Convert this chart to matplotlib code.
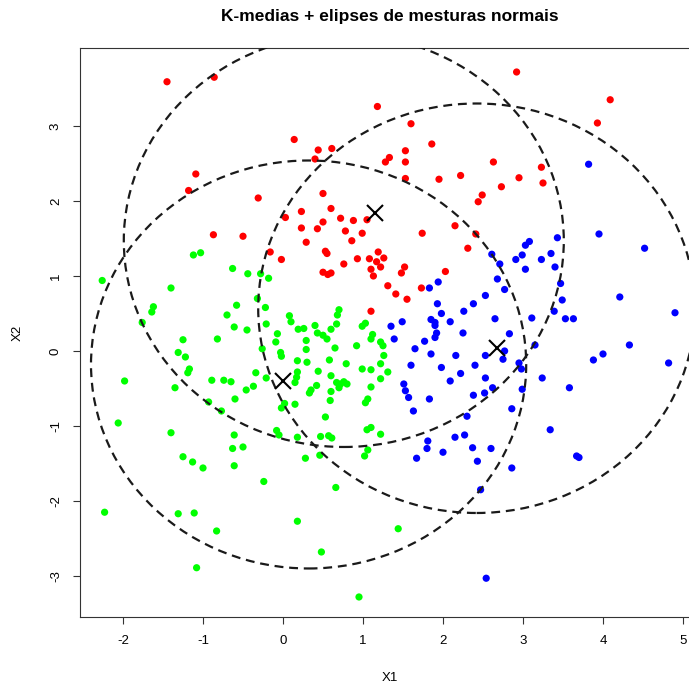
import matplotlib
matplotlib.use("Agg")
import matplotlib.pyplot as plt
from matplotlib.patches import Ellipse
import numpy as np

plt.rcParams['font.family'] = ['Liberation Sans', 'DejaVu Sans']
plt.rcParams['axes.unicode_minus'] = False

# points per cluster
red_x = [-1.45, -0.86, -1.09, -1.18, -0.31, 0.03, -0.87, -0.50,
         1.18, 1.60, 0.14, 0.44, 0.61, 0.40, 1.53, 1.33, 1.28, 1.53, 1.86, 1.53,
         1.95, 2.22, 2.49, 2.44, 0.50, 0.23, 0.60, 0.23, 0.43, 0.50, 0.72, 0.88,
         1.05, 0.78, 0.99, 1.74, 2.15, 2.41,
         2.92, 4.09, 3.93, 2.63, 3.23, 2.95, 3.25, 2.73,
         -0.16, -0.02,
         0.29, 0.86, 0.53, 0.55, 1.19, 1.26, 0.93, 1.08, 1.17, 0.76, 1.22, 1.10,
         1.52, 1.48, 0.50, 0.56, 0.60, 1.13, 2.03, 2.31, 1.31, 1.41, 1.55, 1.73, 1.10]
red_y = [3.59, 3.65, 2.36, 2.14, 2.04, 1.78, 1.55, 1.53,
         3.26, 3.03, 2.82, 2.68, 2.70, 2.56, 2.67, 2.58, 2.52, 2.52, 2.76, 2.30,
         2.29, 2.34, 2.08, 1.99, 2.10, 1.86, 1.90, 1.64, 1.63, 1.72, 1.77, 1.74,
         1.75, 1.60, 1.57, 1.57, 1.67, 1.56,
         3.72, 3.35, 3.04, 2.52, 2.45, 2.31, 2.24, 2.19,
         1.32, 1.22,
         1.45, 1.47, 1.33, 1.30, 1.32, 1.24, 1.23, 1.23, 1.19, 1.16, 1.12, 1.09,
         1.12, 1.04, 1.05, 1.02, 1.04, 1.00, 1.06, 1.37, 0.87, 0.76, 0.69, 0.84, 0.53]

green_x = [-1.12, -1.03, -2.26, -1.40, -0.63, -0.44, -0.28, -0.18, -0.32, -1.62,
           -1.64, -0.58, -0.22, -0.70, -1.76, -0.61, -0.45, -0.21, -0.82, -1.25,
           -0.07, -0.09, -1.31, -1.22, -0.26, -0.03, -0.02, -1.17, -1.19, -1.98,
           -1.35, -0.89, -0.74, -0.65, -0.34, -0.21, -0.37, -0.46, -0.60, -0.93,
           -0.77, -0.02, -2.06,
           0.08, 0.10, 0.19, 0.26, 0.40, 0.43, 0.50, 0.55, 0.60, 0.67, 0.68, 0.70,
           0.99, 1.03, 1.12, 1.10, 1.22, 1.25, 0.92, 0.65, 0.29, 0.29, 1.26, 0.18,
           0.30, 0.58, 0.79, 1.22, 0.44, 0.18, 0.17, 0.15, 0.99, 1.10, 1.31, 0.60,
           0.67, 0.72, 0.76, 0.80, 0.70, 0.42, 0.35, 0.33, 1.22, 0.60, 1.10, 1.06,
           1.03, 0.59, 0.15, 0.02, 0.53,
           -1.40, -0.61, -0.63, -0.50, -1.25, -1.13, -1.00, -0.61, -0.24, -0.08,
           -0.05, -2.23, -1.31, -1.11, -0.83, -1.08,
           0.18, 0.47, 0.57, 0.61, 1.05, 1.10, 1.22, 1.06, 1.02, 0.28, 0.46, 0.66,
           0.18, 1.44, 0.48, 0.95]
green_y = [1.28, 1.31, 0.94, 0.84, 1.10, 1.03, 1.03, 0.97, 0.70, 0.59,
           0.52, 0.61, 0.58, 0.48, 0.38, 0.32, 0.28, 0.36, 0.16, 0.15,
           0.23, 0.12, -0.02, -0.08, 0.03, -0.02, -0.07, -0.24, -0.29, -0.40,
           -0.49, -0.39, -0.39, -0.41, -0.29, -0.36, -0.47, -0.52, -0.64, -0.68,
           -0.80, -0.76, -0.96,
           0.47, 0.39, 0.29, 0.30, 0.34, 0.24, 0.21, 0.16, 0.29, 0.36, 0.48, 0.55,
           0.33, 0.37, 0.22, 0.16, 0.12, 0.07, 0.07, 0.04, 0.14, 0.02, -0.06, -0.13,
           -0.15, -0.12, -0.17, -0.17, -0.27, -0.28, -0.35, -0.42, -0.24, -0.25, -0.28, -0.33,
           -0.42, -0.44, -0.41, -0.44, -0.49, -0.46, -0.52, -0.56, -0.37, -0.54, -0.48, -0.64,
           -0.69, -0.66, -0.71, -0.70, -0.88,
           -1.09, -1.12, -1.30, -1.28, -1.41, -1.48, -1.56, -1.53, -1.74, -1.06,
           -1.12, -2.15, -2.17, -2.16, -2.40, -2.89,
           -1.15, -1.14, -1.13, -1.16, -1.05, -1.02, -1.11, -1.32, -1.40, -1.43, -1.39, -1.82,
           -2.27, -2.37, -2.68, -3.28]

blue_x = [3.82, 3.95, 3.43,
          1.83, 1.94, 1.93, 1.98, 1.85, 1.90, 1.90, 1.92, 1.90, 2.09, 2.26, 2.38,
          2.25, 2.53, 1.49, 1.35, 1.39, 1.77, 1.65, 1.85, 2.16, 1.60, 1.98, 2.22,
          2.40, 2.53, 2.09, 2.53, 1.51, 1.53, 1.57, 1.83, 1.63, 2.38, 2.52, 2.30,
          3.08, 3.03, 4.52, 2.61, 2.99, 2.91, 3.35, 3.23, 2.71, 3.03, 3.40, 2.68,
          3.47, 2.77, 3.49, 4.21, 3.39, 4.90, 2.65, 3.11, 3.53, 3.63, 2.83, 3.15,
          4.33, 2.77, 2.75, 4.00, 3.88, 4.82, 2.95, 2.98, 3.24, 2.62, 2.99, 3.58, 2.86,
          1.81, 1.80, 1.67, 2.00, 2.15, 2.27, 2.37, 2.43, 2.47, 2.54,
          3.34, 2.60, 3.67, 3.70, 2.86]
blue_y = [2.49, 1.56, 1.51,
          0.84, 0.92, 0.63, 0.50, 0.42, 0.38, 0.34, 0.24, 0.18, 0.39, 0.53, 0.63,
          0.24, 0.74, 0.39, 0.33, 0.16, 0.13, 0.03, -0.04, -0.06, -0.19, -0.22, -0.30,
          -0.19, -0.06, -0.40, -0.36, -0.44, -0.53, -0.62, -0.64, -0.80, -0.59, -0.56, -0.87,
          1.46, 1.41, 1.37, 1.29, 1.28, 1.22, 1.30, 1.22, 1.16, 1.09, 1.12, 0.96,
          0.90, 0.82, 0.68, 0.72, 0.53, 0.51, 0.43, 0.44, 0.43, 0.43, 0.23, 0.08,
          0.08, 0.00, -0.11, -0.04, -0.12, -0.16, -0.16, -0.24, -0.36, -0.49, -0.51, -0.49, -0.77,
          -1.20, -1.30, -1.43, -1.35, -1.15, -1.12, -1.29, -1.47, -1.85, -3.03,
          -1.05, -1.30, -1.40, -1.42, -1.56]

# k-means centres
centre_x = [1.15, 0.00, 2.67]
centre_y = [1.84, -0.40, 0.04]

# mixture ellipses (centre x, centre y, radius)
ell_x = [0.76, 0.32, 2.42]
ell_y = [1.47, -0.18, 0.57]
ell_r = [2.75, 2.72, 2.73]

W, H = 689, 688
fig = plt.figure(figsize=(W / 100, H / 100), dpi=100)
left, right, top, bottom = 80, 693, 48, 617
ax = fig.add_axes([left / W, 1 - bottom / H, (right - left) / W, (bottom - top) / H])
ax.set_xlim(-2.5375, 5.125)
ax.set_ylim(-3.547, 4.04)

ax.scatter(red_x, red_y, s=27, color='#ff0000', edgecolors='none', zorder=2)
ax.scatter(green_x, green_y, s=27, color='#00ff00', edgecolors='none', zorder=2)
ax.scatter(blue_x, blue_y, s=27, color='#0000ff', edgecolors='none', zorder=2)

for cx, cy, r in zip(ell_x, ell_y, ell_r):
    ax.add_patch(Ellipse((cx, cy), 2 * r, 2 * r, fill=False, edgecolor='#1a1a1a',
                         linewidth=1.6, linestyle=(0, (4, 2.6)), zorder=3))

ax.plot(centre_x, centre_y, 'x', color='black', markersize=11, mew=1.5, zorder=4)

for s in ax.spines.values():
    s.set_linewidth(0.8)
    s.set_color('#333333')

ax.set_xticks(range(-2, 6))
ax.set_yticks(range(-3, 4))
ax.tick_params(direction='out', length=5, width=0.8, labelsize=9.5, color='#333333')
ax.tick_params(axis='x', pad=8)
ax.tick_params(axis='y', pad=8, labelrotation=90)
for lab in ax.get_yticklabels():
    lab.set_verticalalignment('center')

fig.text(390 / W, 1 - 678 / H, 'X1', ha='center', va='center', fontsize=9.5)
fig.text(18 / W, 1 - 333 / H, 'X2', ha='center', va='center', fontsize=9.5, rotation=90)
fig.text(390 / W, 1 - 17 / H, 'K-medias + elipses de mesturas normais', ha='center',
         va='center', fontsize=12.5, fontweight='bold')

fig.savefig('out.png', dpi=100)
